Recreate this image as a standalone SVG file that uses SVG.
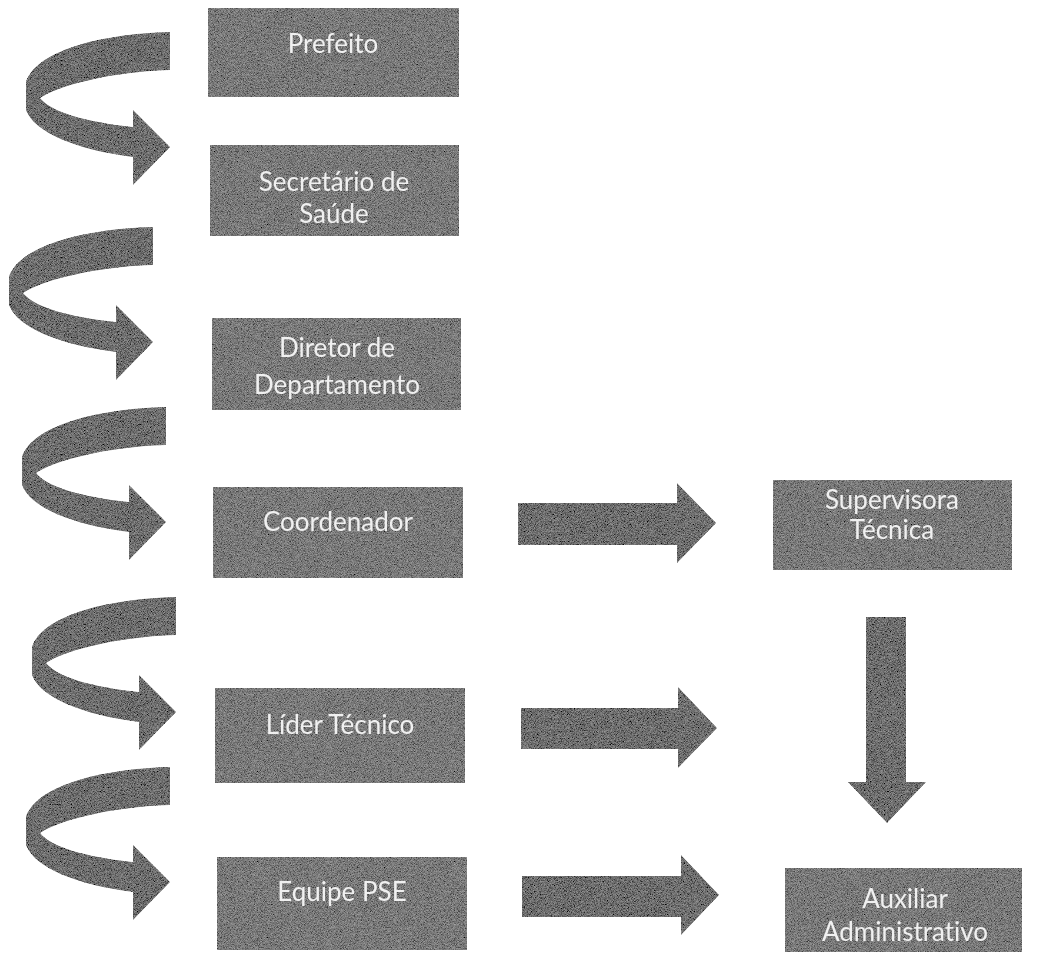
<svg xmlns="http://www.w3.org/2000/svg" width="1044" height="955" viewBox="0 0 1044 955">
  <defs>
    <filter id="grain" x="-5%" y="-5%" width="110%" height="110%">
      <feTurbulence type="fractalNoise" baseFrequency="1.3" numOctaves="1" seed="7" result="n"/>
      <feColorMatrix in="n" type="matrix" values="1 0 0 0 0  1 0 0 0 0  1 0 0 0 0  0 0 0 0 1" result="g"/>
      <feComposite in="SourceGraphic" in2="g" operator="arithmetic" k1="0" k2="1" k3="0.6" k4="-0.28" result="m"/>
      <feComposite in="m" in2="SourceGraphic" operator="in"/>
    </filter>
    <path id="curl" d="M144,0 C70,2 10,20 0,50 L0,78 C8,100 50,118 107,125 L107,153 L144,115 L107,78 L107,95 C60,90 25,80 14,66 C30,55 80,40 144,38 Z"/>
    <style>
      .box { fill: #737373; }
      .arr { fill: #676767; }
      .lbl { font-family: Lato, "Liberation Sans", sans-serif; font-size: 26px; fill: #f0f0f0; text-anchor: middle; font-variant-ligatures: none; font-feature-settings: "liga" 0, "dlig" 0; }
    </style>
  </defs>
  <rect width="1044" height="955" fill="#ffffff"/>

  <g id="connectors" filter="url(#grain)">
    <use href="#curl" class="arr" transform="translate(26,32)"/>
    <use href="#curl" class="arr" transform="translate(9,227)"/>
    <use href="#curl" class="arr" transform="translate(22,407)"/>
    <use href="#curl" class="arr" transform="translate(32,597)"/>
    <use href="#curl" class="arr" transform="translate(26,767)"/>
    <path class="arr" d="M518,503 L677,503 L677,483 L716,523 L677,563 L677,545 L518,545 Z"/>
    <path class="arr" d="M521,708 L678,708 L678,687 L717,728 L678,768 L678,749 L521,749 Z"/>
    <path class="arr" d="M522,876 L681,876 L681,855 L719,895 L681,935 L681,917 L522,917 Z"/>
    <path class="arr" d="M866,617 L906,617 L906,782 L926,782 L887,823 L848,782 L866,782 Z"/>
  </g>

  <g id="prefeito">
    <rect class="box" x="208" y="8" width="251" height="89" filter="url(#grain)"/>
    <text class="lbl" x="333" y="53">Prefeito</text>
  </g>
  <g id="secretario">
    <rect class="box" x="210" y="145" width="249" height="91" filter="url(#grain)"/>
    <text class="lbl" x="334" y="191">Secretário de</text>
    <text class="lbl" x="334" y="223">Saúde</text>
  </g>
  <g id="diretor">
    <rect class="box" x="212" y="318" width="249" height="92" filter="url(#grain)"/>
    <text class="lbl" x="337" y="357">Diretor de</text>
    <text class="lbl" x="337" y="394">Departamento</text>
  </g>
  <g id="coordenador">
    <rect class="box" x="213" y="487" width="250" height="91" filter="url(#grain)"/>
    <text class="lbl" x="338" y="531">Coordenador</text>
  </g>
  <g id="lider">
    <rect class="box" x="215" y="688" width="250" height="95" filter="url(#grain)"/>
    <text class="lbl" x="340" y="734">Líder Técnico</text>
  </g>
  <g id="equipe">
    <rect class="box" x="217" y="857" width="250" height="93" filter="url(#grain)"/>
    <text class="lbl" x="342" y="901">Equipe PSE</text>
  </g>
  <g id="supervisora">
    <rect class="box" x="773" y="480" width="239" height="90" filter="url(#grain)"/>
    <text class="lbl" x="892" y="509">Supervisora</text>
    <text class="lbl" x="892" y="539">Técnica</text>
  </g>
  <g id="auxiliar">
    <rect class="box" x="785" y="868" width="237" height="84" filter="url(#grain)"/>
    <text class="lbl" x="905" y="908">Auxiliar</text>
    <text class="lbl" x="905" y="941">Administrativo</text>
  </g>
</svg>
